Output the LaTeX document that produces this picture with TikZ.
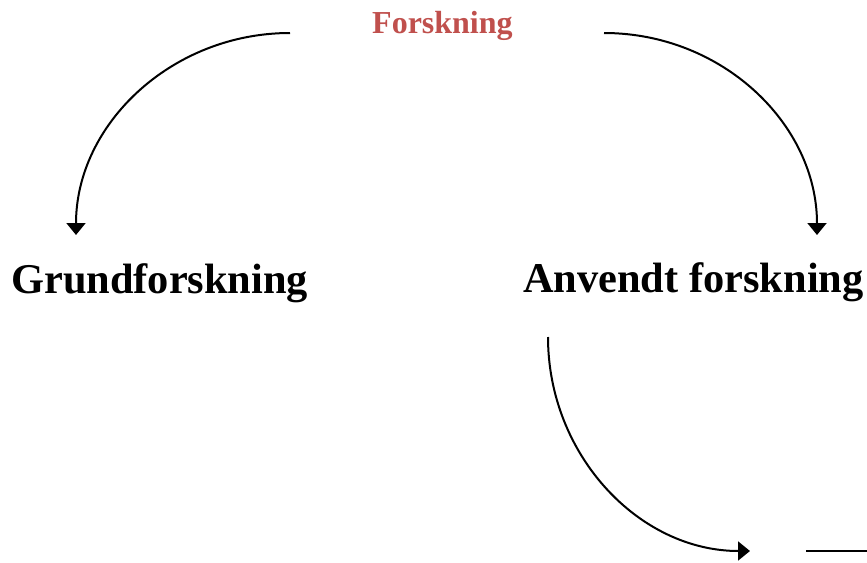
\documentclass[tikz,border=0pt]{standalone}
\usepackage{fontspec}
\setmainfont{Liberation Serif}
\usetikzlibrary{arrows.meta}
\definecolor{headred}{HTML}{C0504D}
\begin{document}
\begin{tikzpicture}[x=1pt,y=-1pt,
  label/.style={inner sep=0pt,anchor=base west,font=\bfseries\fontsize{42.4}{42.4}\selectfont},
  flow/.style={line width=2pt,-{Triangle[width=19pt,length=12pt]}}]
\useasboundingbox (0,0) rectangle (867,562);
% headings
\node[inner sep=0pt,anchor=base west,text=headred,font=\bfseries\fontsize{32}{32}\selectfont] (top) at (372,33) {Forskning};
\node[label] (grund) at (11,293) {Grundforskning};
\node[label] (anv) at (523,292) {Anvendt forskning};
% arrow end points
\coordinate (topL) at (290,33);
\coordinate (topR) at (604,33);
\coordinate (grundIn) at (76,235);
\coordinate (anvIn) at (817,235);
\coordinate (anvOut) at (548,337);
\coordinate (nextIn) at (750,551);
\coordinate (lineA) at (806,551);
\coordinate (lineB) at (867,551);
% curved connectors (quarter ellipses)
\draw[flow] (topL) .. controls ([xshift=-118pt]topL) and ([yshift=111pt]grundIn) .. (grundIn);
\draw[flow] (topR) .. controls ([xshift=118pt]topR) and ([yshift=111pt]anvIn) .. (anvIn);
\draw[flow] (anvOut) .. controls ([yshift=-118pt]anvOut) and ([xshift=-111pt]nextIn) .. (nextIn);
\draw[line width=2pt] (lineA) -- (lineB);
\end{tikzpicture}
\end{document}
